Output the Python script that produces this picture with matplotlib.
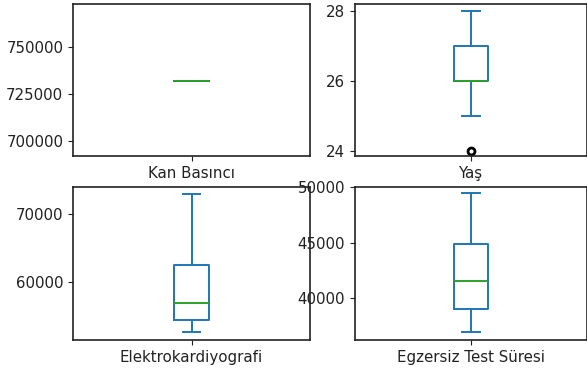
import matplotlib
matplotlib.use("Agg")
import matplotlib.pyplot as plt

# column names
columns = ["Kan Basıncı", "Yaş", "Elektrokardiyografi", "Egzersiz Test Süresi"]

# box statistics: low whisker, q1, median, q3, high whisker
whislo = [731900, 25, 52630, 36940]
q1 = [731900, 26, 54480, 39040]
med = [731900, 26, 56880, 41530]
q3 = [731900, 27, 62490, 44880]
whishi = [731900, 28, 72930, 49420]
fliers = [[], [24], [], []]

# y axis limits of each panel
ylims = [(692000, 772900), (23.86, 28.2), (51510, 73900), (36240, 50000)]
yticks = [[700000, 725000, 750000], [24, 26, 28], [60000, 70000], [40000, 45000, 50000]]

# axes rectangles in pixels (left, top, right, bottom)
W, H = 587, 376
boxes_px = [(73, 4, 310, 156), (355, 4, 587, 156),
            (73, 187, 310, 340), (355, 187, 587, 340)]

fig = plt.figure(figsize=(W / 100, H / 100), dpi=100)

lw = 1.4
for i in range(4):
    l, t, r, b = boxes_px[i]
    ax = fig.add_axes([l / W, 1 - b / H, (r - l) / W, (b - t) / H])
    stats = [{
        "whislo": whislo[i], "q1": q1[i], "med": med[i], "q3": q3[i],
        "whishi": whishi[i], "fliers": fliers[i], "label": columns[i],
    }]
    ax.bxp(
        stats,
        boxprops=dict(color="C0", linewidth=lw),
        whiskerprops=dict(color="C0", linewidth=lw),
        capprops=dict(color="C0", linewidth=lw),
        medianprops=dict(color="C2", linewidth=lw, zorder=3),
        flierprops=dict(marker="o", markersize=5, markeredgewidth=2,
                        markerfacecolor="none", markeredgecolor="black"),
    )
    ax.set_ylim(ylims[i])
    ax.set_yticks(yticks[i])
    ax.tick_params(labelsize=10.8, colors="#222222", labelcolor="#222222")
    for s in ax.spines.values():
        s.set_linewidth(1.2)
        s.set_color("#222222")

fig.savefig("out.png", dpi=100)
